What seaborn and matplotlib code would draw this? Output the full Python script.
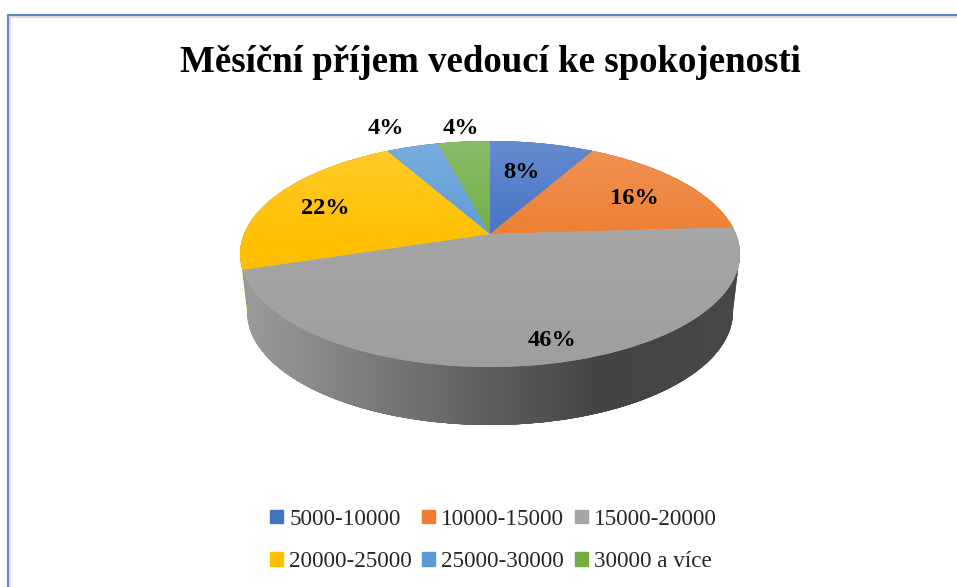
import numpy as np
import seaborn as sns
import matplotlib
matplotlib.use('Agg')
import matplotlib.pyplot as plt
from matplotlib.colors import LinearSegmentedColormap, to_rgb
from matplotlib.patches import Patch, Polygon
from matplotlib.transforms import Transform

# data
categories = ['5000-10000', '10000-15000', '15000-20000', '20000-25000', '25000-30000', '30000 a více']
shares = [8, 16, 46, 22, 4, 4]
colors = ['#4472C4', '#ED7D31', '#A5A5A5', '#FFC000', '#5B9BD5', '#70AD47']
title = 'Měsíční příjem vedoucí ke spokojenosti'

# layout, in picture pixels
label_xy = [(521, 172), (634, 199), (552, 340), (325, 209), (386, 128), (461, 128)]
cx, cy = 490, 234
k, sx, sy = 0.177, 246, 109.5
depth_dy, depth_sx = 58, 0.972

sns.set_theme(style='white')
plt.rcParams['font.family'] = ['Liberation Serif', 'DejaVu Serif']


def project(x, y):
    # circle seen in perspective, centre lands on (cx, cy)
    w = 1 + k * y
    return cx + sx * x / w, cy - sy * y / w


def lower(x, y):
    px, py = project(x, y)
    return cx + depth_sx * (px - cx), py + depth_dy


class Perspective(Transform):
    input_dims = 2
    output_dims = 2

    def transform_non_affine(self, values):
        values = np.asarray(values)
        return np.column_stack(project(values[:, 0], values[:, 1]))


def wall(start, stop):
    t = np.radians(np.linspace(start, stop, 120))
    top = np.column_stack(project(np.cos(t), np.sin(t)))
    bottom = np.column_stack(lower(np.cos(t), np.sin(t)))
    return np.vstack([top, bottom[::-1]])


fig, ax = plt.subplots(figsize=(9.57, 5.87), dpi=100)
fig.subplots_adjust(0, 0, 1, 1)

wedges, _, pct = ax.pie(shares, colors=sns.color_palette(colors), startangle=90, counterclock=False,
                        autopct=lambda p: f'{p:.0f}%')
ax.set_aspect('auto')

edges = 90 - np.cumsum([0] + shares) * 3.6
ramp = np.linspace(0, 1, 256).reshape(-1, 1)
for wedge, c in zip(wedges, colors):
    wedge.set_transform(Perspective() + ax.transData)
    wedge.set_zorder(1)
    base = np.array(to_rgb(c))
    cmap = LinearSegmentedColormap.from_list('top', [(0, base * 0.82 + 0.18), (0.45, base), (1, base * 0.96)])
    im = ax.imshow(ramp, cmap=cmap, extent=(235, 745, 367, 141), aspect='auto', zorder=2, vmin=0, vmax=1)
    im.set_clip_path(wedge)
    wedge.set_edgecolor('none')

# side of the pie: grey slice plus the sliver of the yellow one behind it
yellow_side = Polygon(wall(-170, edges[3] - 360), closed=True, color=colors[3], zorder=0.4, lw=0)
ax.add_patch(yellow_side)
grey_side = Polygon(wall(edges[3] - 360, -10), closed=True, color='#555555', zorder=0.5, lw=0)
ax.add_patch(grey_side)
side_cmap = LinearSegmentedColormap.from_list('side', [(0, '#9C9C9C'), (0.5, '#5E5E5E'), (0.72, '#444444'), (1, '#484848')])
im = ax.imshow(np.linspace(0, 1, 256).reshape(1, -1), cmap=side_cmap, extent=(240, 740, 430, 250), aspect='auto',
               zorder=0.6, vmin=0, vmax=1)
im.set_clip_path(grey_side)

for t, xy in zip(pct, label_xy):
    t.set_position(xy)
    t.set(fontsize=17.6, fontweight='bold', color='black', ha='center', va='center', zorder=5)

# chart frame of the screenshot
ax.plot([10, 10, 957], [587, 17, 17], color='#DDDDDD', lw=1.5, zorder=6, solid_joinstyle='miter')
ax.plot([8, 8, 957], [587, 15, 15], color='#5F87CC', lw=1.5, zorder=7, solid_joinstyle='miter')

ax.text(490, 62, title, fontsize=26.6, fontweight='bold', color='black', ha='center', va='center')

handles = [Patch(color=c) for c in colors]
order = [0, 3, 1, 4, 2, 5]
ax.legend([handles[i] for i in order], [categories[i] for i in order], ncol=3, frameon=False, fontsize=16.7,
          loc='center', bbox_to_anchor=(493.5, 540.5), bbox_transform=ax.transData,
          handlelength=0.56, handleheight=0.5, handletextpad=0.26, columnspacing=0.45, labelspacing=0.93)

ax.set_xlim(0, 957)
ax.set_ylim(587, 0)

fig.savefig('out.png', dpi=100)
